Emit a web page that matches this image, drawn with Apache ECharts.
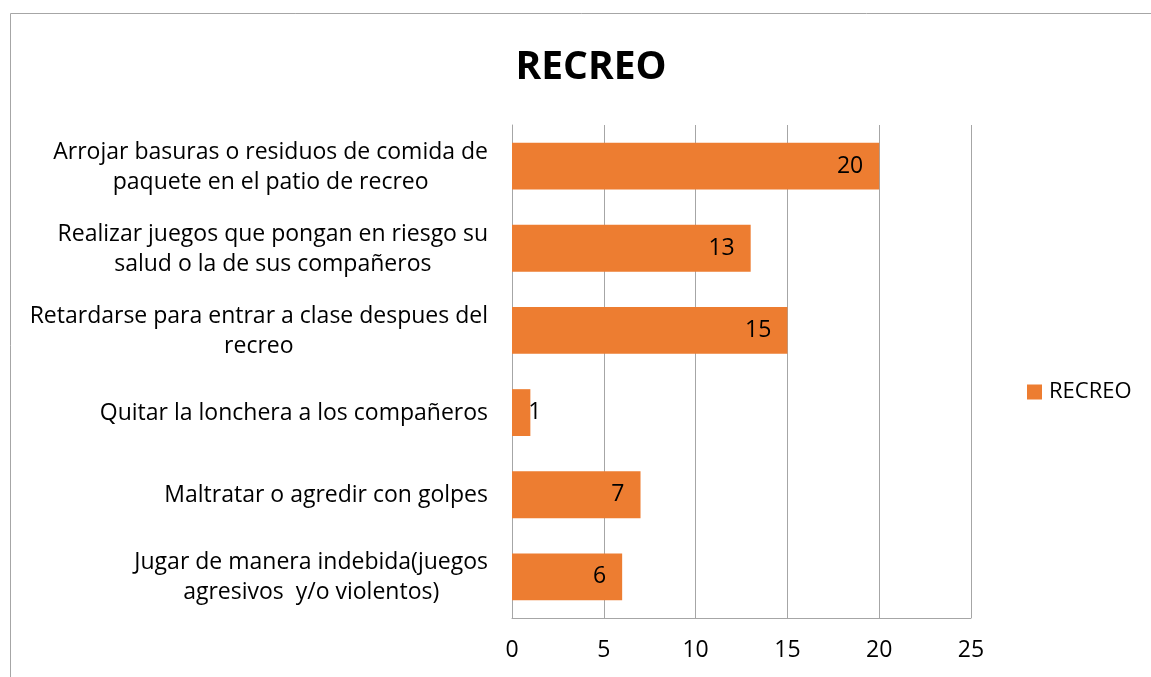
<!DOCTYPE html>
<html>
<head>
<meta charset="utf-8">
<script src="https://cdn.jsdelivr.net/npm/echarts@6/dist/echarts.min.js"></script>
<style>
  html, body { margin: 0; padding: 0; background: #fff; }
  #chart { width: 1151px; height: 677px; }
</style>
</head>
<body>
<div id="chart"></div>
<script>
// datos del grafico
var categorias = [
  'Arrojar basuras o residuos de comida de\npaquete en el patio de recreo',
  'Realizar juegos que pongan en riesgo su\nsalud o la de sus compañeros',
  'Retardarse para entrar a clase despues del\nrecreo',
  'Quitar la lonchera a los compañeros',
  'Maltratar o agredir con golpes',
  'Jugar de manera indebida(juegos\nagresivos  y/o violentos)'
]
var valores = [20, 13, 15, 1, 7, 6]
var ejeX = [0, 5, 10, 15, 20, 25]

var fuente = '"Open Sans", "Noto Sans", sans-serif'
var gris = '#a6a6a6'

var myChart = echarts.init(document.getElementById('chart'))

var datos = valores.map(function(v) {
  if (v < 3) {
    // etiqueta fuera de la barra cuando es muy corta
    return { value: v, label: { position: 'right', distance: -2 } }
  }
  return v
})

var option = {
  backgroundColor: '#fff',
  title: {
    text: 'RECREO',
    left: 586,
    top: 43,
    textAlign: 'center',
    textStyle: {
      fontFamily: fuente,
      fontWeight: 'bold',
      fontSize: 39,
      color: '#000'
    }
  },
  legend: {
    data: ['RECREO'],
    left: 1027,
    top: 381,
    padding: 0,
    orient: 'vertical',
    itemWidth: 15,
    itemHeight: 15,
    itemGap: 6,
    icon: 'rect',
    textStyle: {
      fontFamily: fuente,
      fontSize: 22,
      color: '#000',
      padding: [0, 0, 0, 2]
    }
  },
  grid: {
    left: 512,
    right: 180,
    top: 125,
    bottom: 59,
    containLabel: false
  },
  xAxis: {
    type: 'value',
    min: ejeX[0],
    max: ejeX[ejeX.length - 1],
    interval: 5,
    axisLine: { show: true, lineStyle: { color: gris, width: 1 } },
    axisTick: { show: false },
    splitLine: { show: true, lineStyle: { color: gris, width: 1 } },
    axisLabel: {
      color: '#000',
      fontFamily: fuente,
      fontSize: 23,
      margin: 21
    }
  },
  yAxis: {
    type: 'category',
    inverse: true,
    data: categorias,
    axisLine: { show: true, lineStyle: { color: gris, width: 1 } },
    axisTick: { show: false },
    axisLabel: {
      margin: 24,
      align: 'right',
      formatter: function(v) {
        return v.split('\n').map(function(l) { return '{c|' + l + '}' }).join('\n')
      },
      rich: {
        c: {
          align: 'center',
          fontFamily: fuente,
          fontSize: 23,
          lineHeight: 30,
          color: '#000',
          padding: [2, 0, 0, 0]
        }
      }
    }
  },
  series: [{
    name: 'RECREO',
    type: 'bar',
    data: datos,
    barCategoryGap: '43%',
    itemStyle: { color: '#ED7D31' },
    label: {
      show: true,
      position: 'insideRight',
      distance: 16,
      color: '#000',
      fontFamily: fuente,
      fontSize: 23
    }
  }],
  graphic: [{
    type: 'rect',
    shape: { x: 10.5, y: 13.5, width: 1300, height: 800 },
    style: { fill: null, stroke: '#a6a6a6', lineWidth: 1 },
    silent: true
  }]
}

myChart.setOption(option)
window.addEventListener('resize', function() { myChart.resize() })
</script>
</body>
</html>
